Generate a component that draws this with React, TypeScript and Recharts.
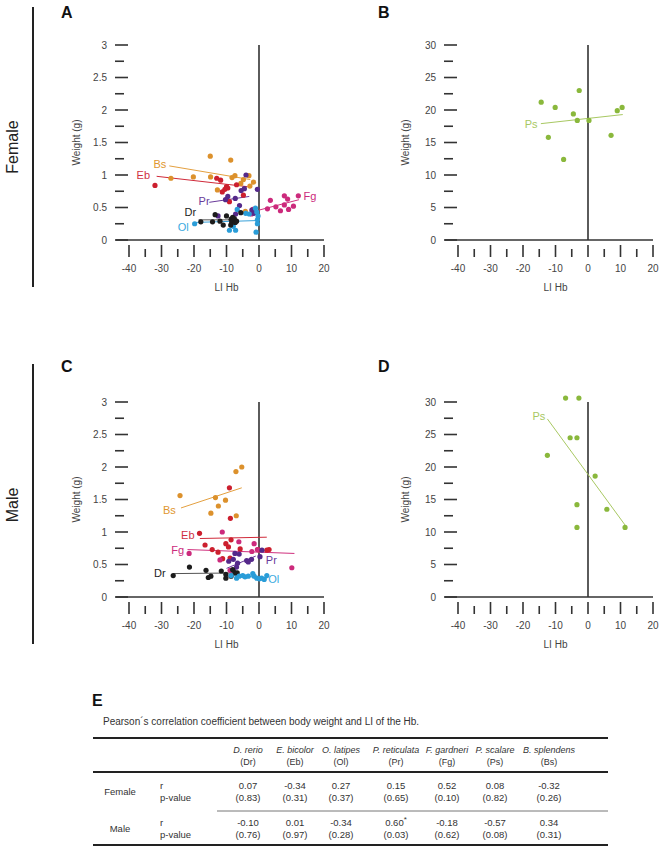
import React from 'react';
import { ScatterChart, Scatter, XAxis, YAxis, ReferenceLine, Label } from 'recharts';

type Pt = { li: number; w: number };
const pts = (a: number[][]): Pt[] => a.map(([li, w]) => ({ li, w }));

// axis ticks
const X_TICKS = [-40, -35, -30, -25, -20, -15, -10, -5, 0, 5, 10, 15, 20];
const Y_TICKS_SMALL = [0, 0.25, 0.5, 0.75, 1, 1.25, 1.5, 1.75, 2, 2.25, 2.5, 2.75, 3];
const Y_TICKS_BIG = [0, 2.5, 5, 7.5, 10, 12.5, 15, 17.5, 20, 22.5, 25, 27.5, 30];

// female, LI Hb vs weight (g)
const femaleDr = pts([[-17.9, 0.28], [-14.3, 0.28], [-13.5, 0.39], [-12.0, 0.29], [-11.0, 0.23], [-10.0, 0.37], [-8.7, 0.23], [-8.6, 0.32], [-8.4, 0.27], [-8.1, 0.35], [-7.9, 0.31], [-7.6, 0.33], [-7.3, 0.27], [-6.9, 0.29], [-5.6, 0.42]]);
const femaleEb = pts([[-32.0, 0.84], [-13.0, 0.95], [-11.8, 0.92], [-10.0, 0.82], [-9.6, 0.8], [-10.5, 0.78], [-11.3, 0.74], [-9.1, 0.59], [-6.9, 0.85], [-4.8, 0.69]]);
const femaleOl = pts([[-19.8, 0.25], [-9.1, 0.15], [-7.9, 0.21], [-7.2, 0.15], [-6.7, 0.47], [-4.1, 0.41], [-3.0, 0.4], [-1.1, 0.49], [-0.7, 0.43], [-0.3, 0.37], [-0.5, 0.31], [-0.5, 0.25], [-0.9, 0.12]]);
const femalePr = pts([[-12.6, 0.37], [-10.3, 0.62], [-9.6, 0.67], [-7.3, 0.64], [-7.2, 0.4], [-6.0, 0.53], [-5.5, 0.76], [-4.5, 0.79], [-4.0, 1.0], [-2.2, 0.46], [-0.5, 0.78], [-1.6, 0.41]]);
const femaleFg = pts([[-2.3, 0.4], [-1.9, 0.47], [2.6, 0.48], [3.5, 0.61], [5.2, 0.51], [6.6, 0.45], [7.8, 0.68], [7.8, 0.54], [8.8, 0.63], [9.1, 0.47], [10.6, 0.52], [12.1, 0.68]]);
const femaleBs = pts([[-27.1, 0.95], [-20.2, 0.97], [-15.0, 1.29], [-14.9, 0.97], [-12.8, 0.77], [-8.7, 1.23], [-8.3, 0.96], [-7.4, 0.99], [-5.6, 0.87], [-4.8, 0.93], [-4.2, 0.44], [-3.1, 0.99], [-2.8, 0.83], [-1.7, 0.89]]);
const femalePs = pts([[-14.4, 21.2], [-12.2, 15.8], [-10.1, 20.4], [-7.5, 12.4], [-4.5, 19.4], [-3.3, 18.4], [-2.7, 23.0], [0.3, 18.4], [7.1, 16.1], [9.0, 19.9], [10.5, 20.4]]);

// male
const maleDr = pts([[-26.4, 0.33], [-21.4, 0.46], [-16.3, 0.41], [-15.6, 0.3], [-14.8, 0.32], [-11.6, 0.4], [-10.2, 0.29], [-10.2, 0.35], [-8.6, 0.32], [-8.1, 0.42], [-7.4, 0.37], [-6.7, 0.37]]);
const maleEb = pts([[-18.3, 0.98], [-16.6, 0.8], [-14.4, 0.73], [-12.6, 0.69], [-11.2, 0.59], [-10.2, 0.82], [-9.4, 0.77], [-9.1, 1.68], [-8.8, 1.21], [-8.6, 0.88], [-8.9, 0.6], [-5.8, 0.74], [-0.3, 0.73], [2.4, 0.72], [3.1, 0.73]]);
const maleOl = pts([[-8.6, 0.33], [-6.9, 0.29], [-6.1, 0.32], [-5.0, 0.33], [-4.3, 0.31], [-3.3, 0.32], [-1.9, 0.36], [-1.5, 0.32], [-0.7, 0.29], [0.1, 0.28], [0.8, 0.29], [1.6, 0.27], [2.4, 0.33]]);
const malePr = pts([[-9.3, 0.55], [-7.9, 0.58], [-7.9, 0.41], [-7.4, 0.67], [-6.9, 0.46], [-6.6, 0.52], [-6.1, 0.66], [-3.8, 0.56], [-3.3, 0.54], [-2.3, 0.58], [0.3, 0.62], [0.9, 0.72]]);
const maleFg = pts([[-21.5, 0.67], [-12.0, 0.57], [-11.3, 1.0], [-8.9, 0.41], [-6.2, 0.85], [-2.2, 0.7], [-1.5, 0.82], [-0.5, 0.73], [10.1, 0.45]]);
const maleBs = pts([[-24.3, 1.56], [-14.8, 1.29], [-13.4, 1.53], [-12.5, 1.4], [-10.3, 1.49], [-7.1, 1.93], [-7.0, 1.25], [-5.3, 2.0]]);
const malePs = pts([[-12.5, 21.8], [-6.9, 30.6], [-5.5, 24.5], [-3.4, 24.5], [-2.8, 30.6], [-3.4, 14.2], [-3.4, 10.7], [2.2, 18.6], [5.8, 13.5], [11.4, 10.7]]);

// fitted lines, endpoints
const femaleDrFit = pts([[-18.6, 0.31], [-7.3, 0.31]]);
const femaleEbFit = pts([[-31.5, 0.98], [-3.5, 0.82]]);
const femaleOlFit = pts([[-19.8, 0.27], [0, 0.3]]);
const femalePrFit = pts([[-15.3, 0.58], [-3, 0.67]]);
const femaleFgFit = pts([[0, 0.46], [12.3, 0.62]]);
const femaleBsFit = pts([[-27.6, 1.14], [-2.7, 0.93]]);
const femalePsFit = pts([[-14.5, 17.9], [10.7, 19.3]]);
const maleDrFit = pts([[-26.4, 0.36], [-6.9, 0.37]]);
const maleEbFit = pts([[-18.2, 0.9], [2.4, 0.92]]);
const maleOlFit = pts([[-8.5, 0.34], [2.5, 0.29]]);
const malePrFit = pts([[-10, 0.44], [-1, 0.63]]);
const maleFgFit = pts([[-22, 0.73], [10.9, 0.67]]);
const maleBsFit = pts([[-24, 1.37], [-5.3, 1.68]]);
const malePsFit = pts([[-12.5, 27.4], [11.8, 10.8]]);

// table E
const SPECIES = ['D. rerio', 'E. bicolor', 'O.  latipes', 'P. reticulata', 'F. gardneri', 'P. scalare', 'B. splendens'];
const ABBR = ['(Dr)', '(Eb)', '(Ol)', '(Pr)', '(Fg)', '(Ps)', '(Bs)'];
const femaleR = [0.07, -0.34, 0.27, 0.15, 0.52, 0.08, -0.32];
const femaleP = [0.83, 0.31, 0.37, 0.65, 0.1, 0.82, 0.26];
const maleR = [-0.1, 0.01, -0.34, 0.6, -0.18, -0.57, 0.34];
const maleP = [0.76, 0.97, 0.28, 0.03, 0.62, 0.08, 0.31];

const C = {
  Dr: '#1c1c1c', Eb: '#cc1f2e', Ol: '#2a9dd8', Pr: '#55298a', Fg: '#cc2a7c', Bs: '#dc912c', Ps: '#8ab83c',
};
const LINE_C = {
  Dr: '#555555', Eb: '#d02a3a', Ol: '#3aa2da', Pr: '#6a3a9a', Fg: '#d0307e', Bs: '#e4a040', Ps: '#a8c862',
};
const TEXT_C = {
  Dr: '#222222', Eb: '#d0303f', Ol: '#3aaae0', Pr: '#6a3a9a', Fg: '#cc2a7c', Bs: '#e0962e', Ps: '#a8c862',
};
const FONT = "Arial, 'Liberation Sans', Helvetica, sans-serif";
const AX = '#333333';

type Series = { key: keyof typeof C; points: Pt[]; fit: Pt[]; labelAt: [number, number] };

const femaleSmall: Series[] = [
  { key: 'Bs', points: femaleBs, fit: femaleBsFit, labelAt: [-30.5, 1.17] },
  { key: 'Eb', points: femaleEb, fit: femaleEbFit, labelAt: [-35.6, 1.0] },
  { key: 'Fg', points: femaleFg, fit: femaleFgFit, labelAt: [15.7, 0.67] },
  { key: 'Pr', points: femalePr, fit: femalePrFit, labelAt: [-16.9, 0.6] },
  { key: 'Ol', points: femaleOl, fit: femaleOlFit, labelAt: [-23.3, 0.2] },
  { key: 'Dr', points: femaleDr, fit: femaleDrFit, labelAt: [-21.1, 0.43] },
];
const maleSmall: Series[] = [
  { key: 'Bs', points: maleBs, fit: maleBsFit, labelAt: [-27.6, 1.34] },
  { key: 'Eb', points: maleEb, fit: maleEbFit, labelAt: [-21.9, 0.96] },
  { key: 'Fg', points: maleFg, fit: maleFgFit, labelAt: [-25.0, 0.73] },
  { key: 'Pr', points: malePr, fit: malePrFit, labelAt: [3.8, 0.57] },
  { key: 'Dr', points: maleDr, fit: maleDrFit, labelAt: [-30.5, 0.37] },
  { key: 'Ol', points: maleOl, fit: maleOlFit, labelAt: [4.5, 0.28] },
];
const femaleBig: Series[] = [{ key: 'Ps', points: femalePs, fit: femalePsFit, labelAt: [-17.5, 17.9] }];
const maleBig: Series[] = [{ key: 'Ps', points: malePs, fit: malePsFit, labelAt: [-15.1, 27.8] }];

const PLOT_W = 208;
const PLOT_H = 208;
const Y_AXIS_W = 56;
const X_AXIS_H = 62;

function XTick(props: any) {
  const { x, y, payload } = props;
  const major = payload.value % 10 === 0;
  return (
    <g>
      <line x1={x} x2={x} y1={y + (major ? 5 : 9)} y2={y + 17} stroke={AX} strokeWidth={1.6} />
      {major && (
        <text x={x} y={y + 32} textAnchor="middle" fontSize={10} fill="#444">
          {payload.value}
        </text>
      )}
    </g>
  );
}

function makeYTick(step: number) {
  return (props: any) => {
    const { x, y, payload } = props;
    const v = payload.value;
    const major = Math.abs(v / step - Math.round(v / step)) < 1e-6;
    return (
      <g>
        <line x1={x - 1} x2={x + (major ? 12 : 8)} y1={y} y2={y} stroke={AX} strokeWidth={1.6} />
        {major && (
          <text x={x - 9} y={y} dy={3.5} textAnchor="end" fontSize={10} fill="#444">
            {v}
          </text>
        )}
      </g>
    );
  };
}

function Panel({ left, top, big, series }: { left: number; top: number; big: boolean; series: Series[] }) {
  const yTop = big ? 32 : 3.2;
  const yMax = big ? 30 : 3;
  const ticks = big ? Y_TICKS_BIG : Y_TICKS_SMALL;
  return (
    <div style={{ position: 'absolute', left, top }}>
      <ScatterChart
        width={Y_AXIS_W + PLOT_W + 8}
        height={8 + PLOT_H + X_AXIS_H}
        margin={{ top: 8, right: 8, bottom: 0, left: 0 }}
      >
        <XAxis
          type="number"
          dataKey="li"
          domain={[-44, 20]}
          ticks={X_TICKS}
          interval={0}
          allowDataOverflow
          tickSize={0}
          tickMargin={0}
          tickLine={false}
          axisLine={{ stroke: AX, strokeWidth: 1.6 }}
          height={X_AXIS_H}
          tick={<XTick />}
        >
          <Label
            content={(p: any) => {
              const vb = p.viewBox;
              return (
                <text x={vb.x + (34 / 64) * vb.width} y={vb.y + 51} textAnchor="middle" fontSize={10} fill="#444">
                  LI Hb
                </text>
              );
            }}
          />
        </XAxis>
        <YAxis
          type="number"
          dataKey="w"
          domain={[0, yTop]}
          ticks={ticks}
          interval={0}
          allowDataOverflow
          width={Y_AXIS_W}
          tickSize={0}
          tickMargin={0}
          tickLine={false}
          axisLine={false}
          tick={makeYTick(big ? 5 : 0.5)}
        >
          <Label
            content={(p: any) => {
              const vb = p.viewBox;
              const cx = vb.x + vb.width - 36;
              const cy = vb.y + vb.height - (yMax / 2 / yTop) * vb.height;
              return (
                <text x={cx} y={cy} transform={`rotate(-90 ${cx} ${cy})`} textAnchor="middle" fontSize={10} fill="#444">
                  Weight (g)
                </text>
              );
            }}
          />
        </YAxis>
        <ReferenceLine segment={[{ x: 0, y: 0 }, { x: 0, y: yMax }]} stroke={AX} strokeWidth={1.6} />
        {series.map((s) => (
          <Scatter
            key={s.key + '-fit'}
            data={s.fit}
            line={{ stroke: LINE_C[s.key], strokeWidth: 1 }}
            shape={() => <g />}
            isAnimationActive={false}
          />
        ))}
        {series.map((s) => (
          <Scatter
            key={s.key + '-pts'}
            data={s.points}
            shape={(p: any) => <circle cx={p.cx} cy={p.cy} r={2.6} fill={C[s.key]} />}
            isAnimationActive={false}
          />
        ))}
        {series.map((s) => (
          <Scatter
            key={s.key + '-lab'}
            data={[{ li: s.labelAt[0], w: s.labelAt[1] }]}
            shape={(p: any) => (
              <text x={p.cx} y={p.cy} dy={4} textAnchor="middle" fontSize={11} fill={TEXT_C[s.key]}>
                {s.key}
              </text>
            )}
            isAnimationActive={false}
          />
        ))}
      </ScatterChart>
    </div>
  );
}

const COL_X = [248, 295, 341, 396, 447, 495, 549];

function TableE() {
  const fmt = (v: number) => v.toFixed(2);
  const row = (label: string, r: number[], p: number[], y: number) => (
    <g>
      <text x={120} y={y + 9} textAnchor="middle" fontSize={9.5}>{label}</text>
      <text x={160} y={y + 3}>r</text>
      <text x={160} y={y + 15}>p-value</text>
      {r.map((v, i) => (
        <text key={'r' + i} x={COL_X[i]} y={y + 3} textAnchor="middle">
          {fmt(v)}
          {label === 'Male' && i === 3 ? <tspan dy={-4} fontSize={8}>*</tspan> : null}
        </text>
      ))}
      {p.map((v, i) => (
        <text key={'p' + i} x={COL_X[i]} y={y + 15} textAnchor="middle">({fmt(v)})</text>
      ))}
    </g>
  );
  return (
    <svg width={661} height={160} style={{ position: 'absolute', left: 0, top: 688 }}>
      <g transform="translate(0,-688)" fontSize={9.5} fill="#333">
        <text x={92} y={706} fontSize={16} fontWeight="bold" fill="#111">E</text>
        <text x={103} y={725} fontSize={10}>Pearson´s correlation coefficient between body weight and LI of the Hb.</text>
        <line x1={93} x2={608} y1={738} y2={738} stroke="#222" strokeWidth={1.8} />
        {SPECIES.map((s, i) => (
          <text key={s} x={COL_X[i]} y={753} textAnchor="middle" fontStyle="italic" fontSize={9}>{s}</text>
        ))}
        {ABBR.map((s, i) => (
          <text key={s} x={COL_X[i]} y={765} textAnchor="middle" fontSize={9}>{s}</text>
        ))}
        <line x1={93} x2={608} y1={772} y2={772} stroke="#222" strokeWidth={1.8} />
        {row('Female', femaleR, femaleP, 786)}
        <line x1={217} x2={608} y1={811} y2={811} stroke="#777" strokeWidth={1} />
        {row('Male', maleR, maleP, 823)}
        <line x1={93} x2={608} y1={845} y2={845} stroke="#222" strokeWidth={1.8} />
      </g>
    </svg>
  );
}

export default function App() {
  const letter = (t: string, x: number, y: number) => (
    <div style={{ position: 'absolute', left: x, top: y, fontSize: 16, fontWeight: 'bold', color: '#111', lineHeight: 1 }}>{t}</div>
  );
  const side = (t: string, cy: number) => (
    <div
      style={{
        position: 'absolute', left: 13, top: cy, fontSize: 16, color: '#222', lineHeight: 1,
        transform: 'translate(-50%, -50%) rotate(-90deg)', whiteSpace: 'nowrap',
      }}
    >
      {t}
    </div>
  );
  return (
    <div style={{ position: 'absolute', left: 0, top: 0, width: 661, height: 846, overflow: 'hidden', background: '#fff', fontFamily: FONT }}>
      <div style={{ position: 'absolute', left: 32, top: 7, width: 1.6, height: 280, background: '#222' }} />
      <div style={{ position: 'absolute', left: 32, top: 364, width: 1.6, height: 280, background: '#222' }} />
      {side('Female', 147)}
      {side('Male', 505)}
      {letter('A', 61, 5)}
      {letter('B', 378, 5)}
      {letter('C', 61, 359)}
      {letter('D', 378, 359)}
      <Panel left={116 - Y_AXIS_W} top={240 - PLOT_H - 8} big={false} series={femaleSmall} />
      <Panel left={445 - Y_AXIS_W} top={240 - PLOT_H - 8} big series={femaleBig} />
      <Panel left={116 - Y_AXIS_W} top={597 - PLOT_H - 8} big={false} series={maleSmall} />
      <Panel left={445 - Y_AXIS_W} top={597 - PLOT_H - 8} big series={maleBig} />
      <TableE />
    </div>
  );
}
